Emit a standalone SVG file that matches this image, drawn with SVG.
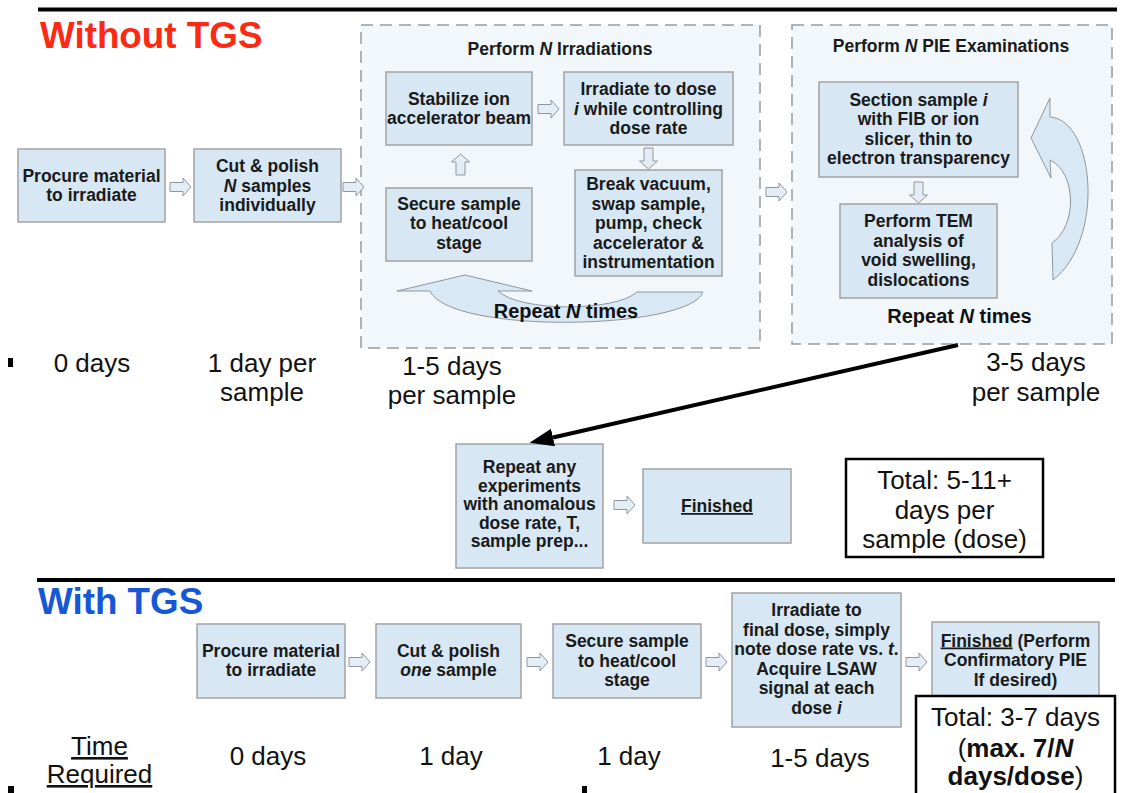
<svg xmlns="http://www.w3.org/2000/svg" width="1143" height="793" viewBox="0 0 1143 793">
  <style>
    .box { fill: #d7e7f4; stroke: #a3a3a3; stroke-width: 1.5; }
    .cont { fill: #f2f7fb; stroke: #9a9a9a; stroke-width: 1.5; stroke-dasharray: 12 7; }
    .tot { fill: #ffffff; stroke: #000000; stroke-width: 2.5; }
    .blk { fill: #e4edf6; stroke: #8f979e; stroke-width: 1; }
    .curve { fill: #d9e8f5; stroke: #8f979e; stroke-width: 1; }
    .bt { font-family: "Liberation Sans", Arial, sans-serif; font-weight: bold; font-size: 17.5px; fill: #1a1a1a; text-anchor: middle; }
    .rep { font-family: "Liberation Sans", Arial, sans-serif; font-weight: bold; font-size: 20px; fill: #111111; text-anchor: middle; }
    .tt { font-family: "Liberation Sans", Arial, sans-serif; font-size: 26px; fill: #111111; text-anchor: middle; }
    .head { font-family: "Liberation Sans", Arial, sans-serif; font-weight: bold; font-size: 36.8px; }
    .it { font-style: italic; }
    .b { font-weight: bold; }
    .u { text-decoration: underline; }
    .rule { stroke: #000000; stroke-width: 4; }
  </style>
  <defs>
    <!-- hollow block arrow, pointing right, origin at its left-middle -->
    <path id="ba" class="blk" d="M0,-4.5 H13 V-9 L21,0 L13,9 V4.5 H0 Z"/>
    <marker id="bigHead" markerUnits="userSpaceOnUse" markerWidth="24" markerHeight="18" refX="0" refY="9" orient="auto">
      <path d="M0,0 L24,9 L0,18 Z" fill="#000000"/>
    </marker>
  </defs>

  <rect width="1143" height="793" fill="#ffffff"/>

  <!-- section rules and headings -->
  <line class="rule" x1="38" y1="9.5" x2="1117" y2="9.5"/>
  <text class="head" x="40" y="48" fill="#fb2a14">Without TGS</text>
  <line class="rule" x1="37" y1="580" x2="1115" y2="580"/>
  <text class="head" x="38" y="614" fill="#1557d4">With TGS</text>

  <!-- ===== Without TGS ===== -->
  <g id="procure-a">
    <rect class="box" x="18" y="149" width="147" height="73"/>
    <text class="bt" x="91.5" y="182">Procure material</text>
    <text class="bt" x="91.5" y="201">to irradiate</text>
  </g>
  <g id="cut-a">
    <rect class="box" x="194" y="149" width="147" height="73"/>
    <text class="bt" x="267.5" y="172">Cut &amp; polish</text>
    <text class="bt" x="267.5" y="191.5"><tspan class="it">N</tspan> samples</text>
    <text class="bt" x="267.5" y="211">individually</text>
  </g>

  <g id="irradiations">
    <rect class="cont" x="361" y="25" width="399" height="323"/>
    <text class="bt" x="560" y="55">Perform <tspan class="it">N</tspan> Irradiations</text>
  </g>
  <g id="stabilize">
    <rect class="box" x="386" y="72" width="146" height="73"/>
    <text class="bt" x="459" y="104.5">Stabilize ion</text>
    <text class="bt" x="459" y="124">accelerator beam</text>
  </g>
  <g id="irradiate-dose">
    <rect class="box" x="564" y="72" width="169" height="73"/>
    <text class="bt" x="648.5" y="95">Irradiate to dose</text>
    <text class="bt" x="648.5" y="114.5"><tspan class="it">i</tspan> while controlling</text>
    <text class="bt" x="648.5" y="134">dose rate</text>
  </g>
  <g id="break-vacuum">
    <rect class="box" x="575" y="170" width="147" height="106"/>
    <text class="bt" x="648.5" y="190">Break vacuum,</text>
    <text class="bt" x="648.5" y="209.5">swap sample,</text>
    <text class="bt" x="648.5" y="229">pump, check</text>
    <text class="bt" x="648.5" y="248.5">accelerator &amp;</text>
    <text class="bt" x="648.5" y="268">instrumentation</text>
  </g>
  <g id="secure-a">
    <rect class="box" x="386" y="188" width="146" height="73"/>
    <text class="bt" x="459" y="209.5">Secure sample</text>
    <text class="bt" x="459" y="229">to heat/cool</text>
    <text class="bt" x="459" y="248.5">stage</text>
  </g>
  <g id="repeat-irr">
    <path class="curve" d="M397,291 L465,275 L532,291 L498,291 C520,312 615,312 637,292 L703,292 C690,330 450,335 430,291 Z"/>
    <text class="rep" x="566" y="318">Repeat <tspan class="it">N</tspan> times</text>
  </g>

  <g id="pie">
    <rect class="cont" x="792" y="25" width="320" height="319"/>
    <text class="bt" x="951" y="52">Perform <tspan class="it">N</tspan> PIE Examinations</text>
  </g>
  <g id="section">
    <rect class="box" x="819" y="82" width="199" height="95"/>
    <text class="bt" x="918.5" y="105.5">Section sample <tspan class="it">i</tspan></text>
    <text class="bt" x="918.5" y="125">with FIB or ion</text>
    <text class="bt" x="918.5" y="144.5">slicer, thin to</text>
    <text class="bt" x="918.5" y="164">electron transparency</text>
  </g>
  <g id="tem">
    <rect class="box" x="840" y="204" width="157" height="94"/>
    <text class="bt" x="918.5" y="227">Perform TEM</text>
    <text class="bt" x="918.5" y="246.5">analysis of</text>
    <text class="bt" x="918.5" y="266">void swelling,</text>
    <text class="bt" x="918.5" y="285.5">dislocations</text>
  </g>
  <g id="repeat-pie">
    <path class="curve" d="M1031,138 L1050,98 L1050,117 C1095,120 1105,240 1053,280 L1052,243 C1078,225 1076,172 1050,160 L1051,178 Z"/>
    <text class="rep" x="959.5" y="323">Repeat <tspan class="it">N</tspan> times</text>
  </g>

  <g id="repeat-any">
    <rect class="box" x="456" y="444" width="147" height="124"/>
    <text class="bt" x="529.5" y="473">Repeat any</text>
    <text class="bt" x="529.5" y="491.5">experiments</text>
    <text class="bt" x="529.5" y="510">with anomalous</text>
    <text class="bt" x="529.5" y="528.5">dose rate, T,</text>
    <text class="bt" x="529.5" y="547">sample prep...</text>
  </g>
  <g id="finished-a">
    <rect class="box" x="643" y="469" width="148" height="74"/>
    <text class="bt u" x="717" y="512">Finished</text>
  </g>
  <g id="total-a">
    <rect class="tot" x="846" y="459" width="197" height="98"/>
    <text class="tt" x="944.5" y="489">Total: 5-11+</text>
    <text class="tt" x="944.5" y="519">days per</text>
    <text class="tt" x="944.5" y="548">sample (dose)</text>
  </g>

  <!-- time per step, without TGS -->
  <g id="times-a">
    <rect x="8" y="358" width="5" height="9" fill="#000000"/>
    <text class="tt" x="92" y="372">0 days</text>
    <text class="tt" x="262" y="372">1 day per</text>
    <text class="tt" x="262" y="401">sample</text>
    <text class="tt" x="452" y="375">1-5 days</text>
    <text class="tt" x="452" y="404">per sample</text>
    <text class="tt" x="1036" y="371">3-5 days</text>
    <text class="tt" x="1036" y="401">per sample</text>
  </g>

  <!-- ===== With TGS ===== -->
  <g id="procure-b">
    <rect class="box" x="197" y="624" width="148" height="74"/>
    <text class="bt" x="271" y="657">Procure material</text>
    <text class="bt" x="271" y="676">to irradiate</text>
  </g>
  <g id="cut-b">
    <rect class="box" x="376" y="624" width="145" height="74"/>
    <text class="bt" x="448.5" y="657">Cut &amp; polish</text>
    <text class="bt" x="448.5" y="676"><tspan class="it">one</tspan> sample</text>
  </g>
  <g id="secure-b">
    <rect class="box" x="553" y="624" width="148" height="74"/>
    <text class="bt" x="627" y="647">Secure sample</text>
    <text class="bt" x="627" y="666.5">to heat/cool</text>
    <text class="bt" x="627" y="686">stage</text>
  </g>
  <g id="irradiate-final">
    <rect class="box" x="732" y="593" width="169" height="134"/>
    <text class="bt" x="816.5" y="616">Irradiate to</text>
    <text class="bt" x="816.5" y="635.5">final dose, simply</text>
    <text class="bt" x="816.5" y="655">note dose rate vs. <tspan class="it">t</tspan>.</text>
    <text class="bt" x="816.5" y="674.5">Acquire LSAW</text>
    <text class="bt" x="816.5" y="694">signal at each</text>
    <text class="bt" x="816.5" y="713.5">dose <tspan class="it">i</tspan></text>
  </g>
  <g id="finished-b">
    <rect class="box" x="932" y="622" width="167" height="76"/>
    <text class="bt" x="1015.5" y="646.5"><tspan class="u">Finished</tspan> (Perform</text>
    <text class="bt" x="1015.5" y="666">Confirmatory PIE</text>
    <text class="bt" x="1015.5" y="685.5">If desired)</text>
  </g>
  <g id="total-b">
    <rect class="tot" x="916" y="696" width="199" height="110"/>
    <text class="tt" x="1015.5" y="726">Total: 3-7 days</text>
    <text class="tt" x="1015.5" y="757">(<tspan class="b">max. 7/<tspan class="it">N</tspan></tspan></text>
    <text class="tt" x="1015.5" y="785"><tspan class="b">days/dose</tspan>)</text>
  </g>

  <!-- time per step, with TGS -->
  <g id="times-b">
    <text class="tt u" x="99.5" y="755">Time</text>
    <text class="tt u" x="99.5" y="783">Required</text>
    <text class="tt" x="268" y="765">0 days</text>
    <text class="tt" x="451" y="765">1 day</text>
    <text class="tt" x="629" y="765">1 day</text>
    <text class="tt" x="820" y="767">1-5 days</text>
    <rect x="8" y="786" width="6" height="7" fill="#000000"/>
    <rect x="582" y="786" width="5" height="7" fill="#000000"/>
  </g>

  <!-- connectors -->
  <g id="connectors">
    <use href="#ba" transform="translate(170,187)"/>
    <use href="#ba" transform="translate(343,187)"/>
    <use href="#ba" transform="translate(538,109)"/>
    <use href="#ba" transform="translate(648.5,148) rotate(90)"/>
    <use href="#ba" transform="translate(460.5,175) rotate(-90)"/>
    <use href="#ba" transform="translate(766,192)"/>
    <use href="#ba" transform="translate(918.5,182) rotate(90)"/>
    <use href="#ba" transform="translate(614,505)"/>
    <use href="#ba" transform="translate(349,662)"/>
    <use href="#ba" transform="translate(527,662)"/>
    <use href="#ba" transform="translate(706,662)"/>
    <use href="#ba" transform="translate(906,662)"/>
    <line x1="958" y1="345" x2="553" y2="437.5" stroke="#000000" stroke-width="4" marker-end="url(#bigHead)"/>
  </g>
</svg>
